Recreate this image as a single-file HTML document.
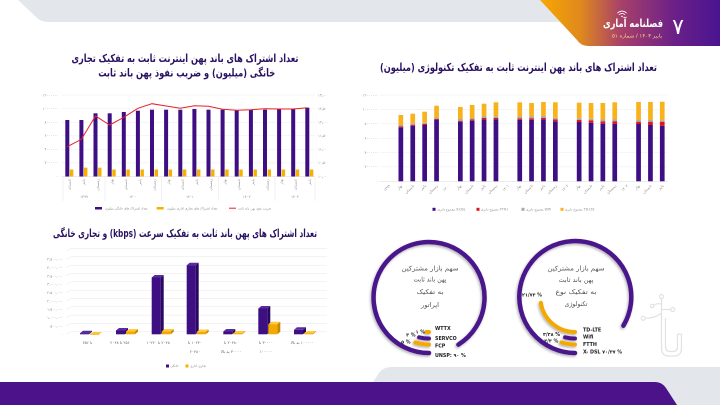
<!DOCTYPE html>
<html><head><meta charset="utf-8"><style>
html,body{margin:0;padding:0;background:#fff;}
body{width:720px;height:405px;overflow:hidden;}
svg{display:block;font-family:"DejaVu Sans","Liberation Sans",sans-serif;}
.t{font-weight:bold;fill:#2b1163;font-size:11px;}
.ax{font-size:3.6px;fill:#8a8a8a;}
.lg{font-size:3.2px;fill:#8a8a8a;}
.ct{font-size:6.5px;fill:#555;}
.rl{font-size:4.8px;fill:#222;font-weight:bold;}
</style></head><body>
<svg width="720" height="405" viewBox="0 0 720 405" xmlns="http://www.w3.org/2000/svg">
<defs>
<linearGradient id="hg" x1="540" y1="0" x2="720" y2="0" gradientUnits="userSpaceOnUse">
<stop offset="0" stop-color="#f7a800"/><stop offset="0.22" stop-color="#e08a1c"/><stop offset="0.45" stop-color="#a8406a"/><stop offset="0.75" stop-color="#6a2088"/><stop offset="1" stop-color="#4a1490"/>
</linearGradient>
<filter id="sh" x="-30%" y="-30%" width="160%" height="160%"><feDropShadow dx="-1" dy="1.5" stdDeviation="1.3" flood-color="#000" flood-opacity="0.3"/></filter>
</defs>

<!-- top gray band -->
<path d="M18 0 L720 0 L720 22 L48 22 Q40 22 35 16 Z" fill="#e3e6ea"/>
<!-- header -->
<path d="M540 0 L720 0 L720 46 L588 46 Q581 46 577 40 Z" fill="url(#hg)"/>
<text x="678" y="34" font-size="22" fill="#fff" text-anchor="middle">۷</text>
<text x="633" y="27" font-size="11" font-weight="bold" fill="#fff" text-anchor="middle" direction="rtl" textLength="60" lengthAdjust="spacingAndGlyphs">فصلنامه آماری</text>
<text x="637" y="37.5" font-size="5" fill="#ffd98a" text-anchor="middle" direction="rtl" textLength="50" lengthAdjust="spacingAndGlyphs">پاییز ۱۴۰۳ / شماره ۵۱</text>
<g fill="none" stroke="#fff" stroke-width="0.8" stroke-linecap="round"><path d="M617.5 13 Q622 9.2 626.5 13"/><path d="M619.2 14.6 Q622 12.3 624.8 14.6"/></g>
<circle cx="622" cy="16.4" r="0.8" fill="#fff"/>

<!-- bottom bands -->
<path d="M720 367 L392 367 Q383 367 379 373 L371 385 L371 405 L720 405 Z" fill="#e3e6ea"/>
<path d="M0 382 L655 382 Q662 382 666 388 L677 405 L0 405 Z" fill="#4b1289"/>

<!-- ===== Chart 1 ===== -->
<text class="t" x="185" y="62" text-anchor="middle" direction="rtl" textLength="227" lengthAdjust="spacingAndGlyphs">تعداد اشتراک های باند پهن اینترنت ثابت به تفکیک تجاری</text>
<text class="t" x="186.7" y="76.5" text-anchor="middle" direction="rtl" textLength="177" lengthAdjust="spacingAndGlyphs">خانگی (میلیون) و ضریب نفوذ پهن باند ثابت</text>
<g stroke="#ececec" stroke-width="0.5">
<line x1="61.7" y1="95" x2="315" y2="95"/><line x1="61.7" y1="108.6" x2="315" y2="108.6"/><line x1="61.7" y1="122.2" x2="315" y2="122.2"/><line x1="61.7" y1="135.8" x2="315" y2="135.8"/><line x1="61.7" y1="149.3" x2="315" y2="149.3"/><line x1="61.7" y1="162.9" x2="315" y2="162.9"/><line x1="61.7" y1="176.5" x2="315" y2="176.5" stroke="#d8d8d8"/>
</g>
<g class="ax" text-anchor="end">
<text x="58" y="96.3">۱۲۰۰۰۰۰۰</text><text x="58" y="109.9">۱۰۰۰۰۰۰۰</text><text x="58" y="123.5">۸۰۰۰۰۰۰</text><text x="58" y="137.1">۶۰۰۰۰۰۰</text><text x="58" y="150.6">۴۰۰۰۰۰۰</text><text x="58" y="164.2">۲۰۰۰۰۰۰</text><text x="58" y="177.8">۰</text>
</g>
<g class="ax">
<text x="318" y="96.3">۱۳٫۰۰</text><text x="318" y="109.9">۱۲٫۵۰</text><text x="318" y="123.5">۱۲٫۰۰</text><text x="318" y="137.1">۱۱٫۵۰</text><text x="318" y="150.6">۱۱٫۰۰</text><text x="318" y="164.2">۱۰٫۵۰</text><text x="318" y="177.8">۱۰٫۰۰</text>
</g>
<g fill="#3d0f82">
<rect x="65.3" y="120" width="4" height="56.5"/><rect x="79.4" y="120" width="4" height="56.5"/><rect x="93.5" y="113.3" width="4" height="63.2"/><rect x="107.7" y="113.3" width="4" height="63.2"/><rect x="121.8" y="112" width="4" height="64.5"/><rect x="135.9" y="110.7" width="4" height="65.8"/><rect x="150" y="109.7" width="4" height="66.8"/><rect x="164.1" y="109.7" width="4" height="66.8"/><rect x="178.3" y="109.7" width="4" height="66.8"/><rect x="192.4" y="109" width="4" height="67.5"/><rect x="206.5" y="109.7" width="4" height="66.8"/><rect x="220.6" y="109.7" width="4" height="66.8"/><rect x="234.7" y="110.3" width="4" height="66.2"/><rect x="248.9" y="109.7" width="4" height="66.8"/><rect x="263" y="109.7" width="4" height="66.8"/><rect x="277.1" y="109" width="4" height="67.5"/><rect x="291.2" y="109" width="4" height="67.5"/><rect x="305.3" y="107.7" width="4" height="68.8"/>
</g>
<g fill="#f5b000">
<rect x="69.9" y="169.5" width="3.4" height="7"/><rect x="84" y="167.7" width="3.4" height="8.8"/><rect x="98.1" y="167.7" width="3.4" height="8.8"/><rect x="112.3" y="169.5" width="3.4" height="7"/><rect x="126.4" y="169.5" width="3.4" height="7"/><rect x="140.5" y="169.5" width="3.4" height="7"/><rect x="154.6" y="169.5" width="3.4" height="7"/><rect x="168.7" y="169.5" width="3.4" height="7"/><rect x="182.9" y="169.5" width="3.4" height="7"/><rect x="197" y="169.5" width="3.4" height="7"/><rect x="211.1" y="169.5" width="3.4" height="7"/><rect x="225.2" y="169.5" width="3.4" height="7"/><rect x="239.3" y="169.5" width="3.4" height="7"/><rect x="253.5" y="169.5" width="3.4" height="7"/><rect x="267.6" y="169.5" width="3.4" height="7"/><rect x="281.7" y="169.5" width="3.4" height="7"/><rect x="295.8" y="169.5" width="3.4" height="7"/><rect x="309.9" y="169.5" width="3.4" height="7"/>
</g>
<polyline fill="none" stroke="#e8202a" stroke-width="1" points="67.3,146.7 81.4,139.3 95.5,116 109.7,125 123.8,117.3 137.9,108.3 152,103.7 166.1,106 180.3,108.3 194.4,105.7 208.5,106.3 222.6,109.3 236.7,110.3 250.9,109.7 265,108.7 279.1,109 293.2,109 307.3,107.7"/>
<g stroke="#dcdcdc" stroke-width="0.4">
<line x1="63" y1="177" x2="63" y2="201"/><line x1="105" y1="177" x2="105" y2="201"/><line x1="161.7" y1="177" x2="161.7" y2="201"/><line x1="218.3" y1="177" x2="218.3" y2="201"/><line x1="275" y1="177" x2="275" y2="201"/><line x1="315" y1="177" x2="315" y2="201"/>
</g>
<g class="ax" text-anchor="end">
<text transform="translate(70.6,179) rotate(-90)">تابستان</text><text transform="translate(84.7,179) rotate(-90)">پاییز</text><text transform="translate(98.8,179) rotate(-90)">زمستان</text><text transform="translate(113,179) rotate(-90)">بهار</text><text transform="translate(127.1,179) rotate(-90)">تابستان</text><text transform="translate(141.2,179) rotate(-90)">پاییز</text><text transform="translate(155.3,179) rotate(-90)">زمستان</text><text transform="translate(169.4,179) rotate(-90)">بهار</text><text transform="translate(183.6,179) rotate(-90)">تابستان</text><text transform="translate(197.7,179) rotate(-90)">پاییز</text><text transform="translate(211.8,179) rotate(-90)">زمستان</text><text transform="translate(225.9,179) rotate(-90)">بهار</text><text transform="translate(240,179) rotate(-90)">تابستان</text><text transform="translate(254.2,179) rotate(-90)">پاییز</text><text transform="translate(268.3,179) rotate(-90)">زمستان</text><text transform="translate(282.4,179) rotate(-90)">بهار</text><text transform="translate(296.5,179) rotate(-90)">تابستان</text><text transform="translate(310.6,179) rotate(-90)">پاییز</text>
</g>
<g class="ax" text-anchor="middle">
<text x="84" y="198">۱۳۹۹</text><text x="133" y="198">۱۴۰۰</text><text x="190" y="198">۱۴۰۱</text><text x="246.7" y="198">۱۴۰۲</text><text x="295" y="198">۱۴۰۳</text>
</g>
<rect x="95" y="207" width="7" height="2.5" fill="#3d0f82"/>
<text class="lg" x="105" y="209.3">تعداد اشتراک های خانگی میلیون</text>
<rect x="156.7" y="207" width="7" height="2.5" fill="#f5b000"/>
<text class="lg" x="167" y="209.3">تعداد اشتراک های تجاری اداری میلیون</text>
<line x1="229" y1="208.2" x2="236" y2="208.2" stroke="#e8202a" stroke-width="1"/>
<text class="lg" x="238" y="209.3">ضریب نفوذ پهن باند ثابت</text>

<!-- ===== Chart 2 ===== -->
<text class="t" x="518.5" y="71" text-anchor="middle" direction="rtl" textLength="277" lengthAdjust="spacingAndGlyphs">تعداد اشتراک های باند پهن اینترنت ثابت به تفکیک تکنولوژی (میلیون)</text>
<g stroke="#ececec" stroke-width="0.5">
<line x1="380" y1="95" x2="668" y2="95"/><line x1="380" y1="109.4" x2="668" y2="109.4"/><line x1="380" y1="123.8" x2="668" y2="123.8"/><line x1="380" y1="138.2" x2="668" y2="138.2"/><line x1="380" y1="152.5" x2="668" y2="152.5"/><line x1="380" y1="166.9" x2="668" y2="166.9"/><line x1="380" y1="181.3" x2="668" y2="181.3" stroke="#d8d8d8"/>
</g>
<g class="ax" text-anchor="end">
<text x="378" y="96.3">۱۲۰۰۰۰۰۰</text><text x="378" y="110.7">۱۰۰۰۰۰۰۰</text><text x="378" y="125.1">۸۰۰۰۰۰۰</text><text x="378" y="139.5">۶۰۰۰۰۰۰</text><text x="378" y="153.8">۴۰۰۰۰۰۰</text><text x="378" y="168.2">۲۰۰۰۰۰۰</text><text x="378" y="182.6">۰</text>
</g>
<g fill="#3d0f82">
<rect x="398.5" y="127.3" width="4.7" height="54"/><rect x="410.4" y="125.7" width="4.7" height="55.6"/><rect x="422.3" y="125" width="4.7" height="56.3"/><rect x="434.2" y="120" width="4.7" height="61.3"/>
<rect x="458" y="121.7" width="4.7" height="59.6"/><rect x="469.8" y="120.7" width="4.7" height="60.6"/><rect x="481.7" y="119.3" width="4.7" height="62"/><rect x="493.6" y="119.3" width="4.7" height="62"/>
<rect x="517.4" y="119.7" width="4.7" height="61.6"/><rect x="529.2" y="119.7" width="4.7" height="61.6"/><rect x="541.1" y="119.3" width="4.7" height="62"/><rect x="553" y="121.3" width="4.7" height="60"/>
<rect x="576.8" y="122" width="4.7" height="59.3"/><rect x="588.7" y="122.7" width="4.7" height="58.6"/><rect x="600.5" y="123.7" width="4.7" height="57.6"/><rect x="612.4" y="123.7" width="4.7" height="57.6"/>
<rect x="636.2" y="124" width="4.7" height="57.3"/><rect x="648.1" y="125" width="4.7" height="56.3"/><rect x="659.9" y="125.7" width="4.7" height="55.6"/>
</g>
<g fill="#e3121b">
<rect x="398.5" y="126.3" width="4.7" height="1"/><rect x="410.4" y="124.7" width="4.7" height="1"/><rect x="422.3" y="124" width="4.7" height="1"/><rect x="434.2" y="119" width="4.7" height="1"/>
<rect x="458" y="120.7" width="4.7" height="1"/><rect x="469.8" y="119.5" width="4.7" height="1.2"/><rect x="481.7" y="118" width="4.7" height="1.3"/><rect x="493.6" y="118" width="4.7" height="1.3"/>
<rect x="517.4" y="118.3" width="4.7" height="1.4"/><rect x="529.2" y="118.2" width="4.7" height="1.5"/><rect x="541.1" y="117.8" width="4.7" height="1.5"/><rect x="553" y="119.5" width="4.7" height="1.8"/>
<rect x="576.8" y="120" width="4.7" height="2"/><rect x="588.7" y="120.5" width="4.7" height="2.2"/><rect x="600.5" y="121.3" width="4.7" height="2.4"/><rect x="612.4" y="121.2" width="4.7" height="2.5"/>
<rect x="636.2" y="121.7" width="4.7" height="2.3"/><rect x="648.1" y="121.7" width="4.7" height="3.3"/><rect x="659.9" y="121.7" width="4.7" height="4"/>
</g>
<g fill="#a9a9a9">
<rect x="398.5" y="125" width="4.7" height="1.3"/><rect x="410.4" y="123.3" width="4.7" height="1.4"/><rect x="422.3" y="122.7" width="4.7" height="1.3"/><rect x="434.2" y="117.5" width="4.7" height="1.5"/>
<rect x="458" y="119" width="4.7" height="1.7"/><rect x="469.8" y="118" width="4.7" height="1.5"/><rect x="481.7" y="116.5" width="4.7" height="1.5"/><rect x="493.6" y="116.3" width="4.7" height="1.7"/>
<rect x="517.4" y="116.5" width="4.7" height="1.8"/><rect x="529.2" y="116.5" width="4.7" height="1.7"/><rect x="541.1" y="116" width="4.7" height="1.8"/><rect x="553" y="117.8" width="4.7" height="1.7"/>
<rect x="576.8" y="118.3" width="4.7" height="1.7"/><rect x="588.7" y="118.8" width="4.7" height="1.7"/><rect x="600.5" y="119.5" width="4.7" height="1.8"/><rect x="612.4" y="119.5" width="4.7" height="1.7"/>
<rect x="636.2" y="120" width="4.7" height="1.7"/><rect x="648.1" y="120" width="4.7" height="1.7"/><rect x="659.9" y="120.3" width="4.7" height="1.4"/>
</g>
<g fill="#f7b21c">
<rect x="398.5" y="115" width="4.7" height="10"/><rect x="410.4" y="113.7" width="4.7" height="9.6"/><rect x="422.3" y="111.7" width="4.7" height="11"/><rect x="434.2" y="105.7" width="4.7" height="11.8"/>
<rect x="458" y="107" width="4.7" height="12"/><rect x="469.8" y="105" width="4.7" height="13"/><rect x="481.7" y="103.7" width="4.7" height="12.8"/><rect x="493.6" y="102.3" width="4.7" height="14"/>
<rect x="517.4" y="102.3" width="4.7" height="14.2"/><rect x="529.2" y="103" width="4.7" height="13.5"/><rect x="541.1" y="102" width="4.7" height="14"/><rect x="553" y="102.3" width="4.7" height="15.5"/>
<rect x="576.8" y="102.7" width="4.7" height="15.6"/><rect x="588.7" y="103" width="4.7" height="15.8"/><rect x="600.5" y="103" width="4.7" height="16.5"/><rect x="612.4" y="102.3" width="4.7" height="17.2"/>
<rect x="636.2" y="102" width="4.7" height="18"/><rect x="648.1" y="102" width="4.7" height="18"/><rect x="659.9" y="101.7" width="4.7" height="18.6"/>
</g>
<g class="ax" text-anchor="end">
<text transform="translate(390.5,186) rotate(-45)">۱۳۹۹</text>
<text transform="translate(402.4,186) rotate(-45)">بهار</text><text transform="translate(414.3,186) rotate(-45)">تابستان</text><text transform="translate(426.1,186) rotate(-45)">پاییز</text><text transform="translate(438,186) rotate(-45)">زمستان</text>
<text transform="translate(449.9,186) rotate(-45)">۱۴۰۰</text>
<text transform="translate(461.8,186) rotate(-45)">بهار</text><text transform="translate(473.7,186) rotate(-45)">تابستان</text><text transform="translate(485.6,186) rotate(-45)">پاییز</text><text transform="translate(497.4,186) rotate(-45)">زمستان</text>
<text transform="translate(509.3,186) rotate(-45)">۱۴۰۱</text>
<text transform="translate(521.2,186) rotate(-45)">بهار</text><text transform="translate(533.1,186) rotate(-45)">تابستان</text><text transform="translate(545,186) rotate(-45)">پاییز</text><text transform="translate(556.9,186) rotate(-45)">زمستان</text>
<text transform="translate(568.7,186) rotate(-45)">۱۴۰۲</text>
<text transform="translate(580.6,186) rotate(-45)">بهار</text><text transform="translate(592.5,186) rotate(-45)">تابستان</text><text transform="translate(604.4,186) rotate(-45)">پاییز</text><text transform="translate(616.3,186) rotate(-45)">زمستان</text>
<text transform="translate(628.2,186) rotate(-45)">۱۴۰۳</text>
<text transform="translate(640,186) rotate(-45)">بهار</text><text transform="translate(651.9,186) rotate(-45)">تابستان</text><text transform="translate(663.8,186) rotate(-45)">پاییز</text>
</g>
<rect x="432.5" y="207.8" width="3" height="3" fill="#3d0f82"/><text class="lg" x="437.5" y="210.3">مجموع دایری X-DSL</text>
<rect x="476.5" y="207.8" width="3" height="3" fill="#e3121b"/><text class="lg" x="481" y="210.3">مجموع دایری FTTH</text>
<rect x="521.5" y="207.8" width="3" height="3" fill="#a9a9a9"/><text class="lg" x="526" y="210.3">مجموع دایری Wifi</text>
<rect x="560.5" y="207.8" width="3" height="3" fill="#f7b21c"/><text class="lg" x="565" y="210.3">مجموع دایری TD-LTE</text>

<!-- ===== Chart 3 ===== -->
<text class="t" x="185" y="237" text-anchor="middle" direction="rtl" textLength="264" lengthAdjust="spacingAndGlyphs">تعداد اشتراک های پهن باند ثابت به تفکیک سرعت (kbps) و تجاری خانگی</text>
<g stroke="#e6e6e6" stroke-width="0.5" fill="none">
<path d="M66 334.3 L71 331.8 L327 331.8"/><path d="M66 326 L71 323.5 L327 323.5"/><path d="M66 317.6 L71 315.1 L327 315.1"/><path d="M66 309.3 L71 306.8 L327 306.8"/><path d="M66 301 L71 298.5 L327 298.5"/><path d="M66 292.7 L71 290.2 L327 290.2"/><path d="M66 284.3 L71 281.8 L327 281.8"/><path d="M66 276 L71 273.5 L327 273.5"/><path d="M66 267.7 L71 265.2 L327 265.2"/><path d="M66 259.3 L71 256.8 L327 256.8"/><path d="M66 251 L71 248.5 L327 248.5"/>
</g>
<g class="ax" text-anchor="end">
<text x="63" y="335.6">۰</text><text x="63" y="327.3">۵۰۰،۰۰۰</text><text x="63" y="318.9">۱،۰۰۰،۰۰۰</text><text x="63" y="310.6">۱،۵۰۰،۰۰۰</text><text x="63" y="302.3">۲،۰۰۰،۰۰۰</text><text x="63" y="294">۲،۵۰۰،۰۰۰</text><text x="63" y="285.6">۳،۰۰۰،۰۰۰</text><text x="63" y="277.3">۳،۵۰۰،۰۰۰</text><text x="63" y="269">۴،۰۰۰،۰۰۰</text><text x="63" y="260.6">۴،۵۰۰،۰۰۰</text>
</g>
<!-- 3D bars: purple then orange per group -->
<g>
<!-- G1 -->
<polygon points="89,333.2 92,330.7 92,331.8 89,334.3" fill="#2a0860"/><polygon points="80,333.2 83,330.7 92,330.7 89,333.2" fill="#5a2aa0"/><rect x="80" y="333.2" width="9" height="1.1" fill="#3d0f82"/>
<polygon points="99,334.3 102,331.8 102,331.8 99,334.3" fill="#c88600"/><polygon points="90,334.5 93,332 102,332 99,334.5" fill="#ffc940"/><rect x="90" y="333.8" width="9" height="0.9" fill="#f2a900"/>
<!-- G2 -->
<polygon points="125,330.5 128,328 128,331.8 125,334.3" fill="#2a0860"/><polygon points="116,330.5 119,328 128,328 125,330.5" fill="#5a2aa0"/><rect x="116" y="330.5" width="9" height="3.8" fill="#3d0f82"/>
<polygon points="135,331.5 138,329 138,331.8 135,334.3" fill="#c88600"/><polygon points="126,331.5 129,329 138,329 135,331.5" fill="#ffc940"/><rect x="126" y="331.5" width="9" height="2.8" fill="#f2a900"/>
<!-- G3 -->
<polygon points="160.7,277.5 163.7,275 163.7,331.8 160.7,334.3" fill="#2a0860"/><polygon points="151.7,277.5 154.7,275 163.7,275 160.7,277.5" fill="#5a2aa0"/><rect x="151.7" y="277.5" width="9" height="56.8" fill="#3d0f82"/>
<polygon points="170.7,331.5 173.7,329 173.7,331.8 170.7,334.3" fill="#c88600"/><polygon points="161.7,331.5 164.7,329 173.7,329 170.7,331.5" fill="#ffc940"/><rect x="161.7" y="331.5" width="9" height="2.8" fill="#f2a900"/>
<!-- G4 -->
<polygon points="195.7,265.2 198.7,262.7 198.7,331.8 195.7,334.3" fill="#2a0860"/><polygon points="186.7,265.2 189.7,262.7 198.7,262.7 195.7,265.2" fill="#5a2aa0"/><rect x="186.7" y="265.2" width="9" height="69.1" fill="#3d0f82"/>
<polygon points="205.7,332 208.7,329.5 208.7,331.8 205.7,334.3" fill="#c88600"/><polygon points="196.7,332 199.7,329.5 208.7,329.5 205.7,332" fill="#ffc940"/><rect x="196.7" y="332" width="9" height="2.3" fill="#f2a900"/>
<!-- G5 -->
<polygon points="232.3,331.5 235.3,329 235.3,331.8 232.3,334.3" fill="#2a0860"/><polygon points="223.3,331.5 226.3,329 235.3,329 232.3,331.5" fill="#5a2aa0"/><rect x="223.3" y="331.5" width="9" height="2.8" fill="#3d0f82"/>
<polygon points="242.3,333.5 245.3,331 245.3,331.8 242.3,334.3" fill="#c88600"/><polygon points="233.3,333.5 236.3,331 245.3,331 242.3,333.5" fill="#ffc940"/><rect x="233.3" y="333.3" width="9" height="1" fill="#f2a900"/>
<!-- G6 -->
<polygon points="267.3,308.5 270.3,306 270.3,331.8 267.3,334.3" fill="#2a0860"/><polygon points="258.3,308.5 261.3,306 270.3,306 267.3,308.5" fill="#5a2aa0"/><rect x="258.3" y="308.5" width="9" height="25.8" fill="#3d0f82"/>
<polygon points="277.3,324.2 280.3,321.7 280.3,331.8 277.3,334.3" fill="#c88600"/><polygon points="268.3,324.2 271.3,321.7 280.3,321.7 277.3,324.2" fill="#ffc940"/><rect x="268.3" y="324.2" width="9" height="10.1" fill="#f2a900"/>
<!-- G7 -->
<polygon points="303,329.8 306,327.3 306,331.8 303,334.3" fill="#2a0860"/><polygon points="294,329.8 297,327.3 306,327.3 303,329.8" fill="#5a2aa0"/><rect x="294" y="329.8" width="9" height="4.5" fill="#3d0f82"/>
<polygon points="313,333.5 316,331 316,331.8 313,334.3" fill="#c88600"/><polygon points="304,333.5 307,331 316,331 313,333.5" fill="#ffc940"/><rect x="304" y="333.3" width="9" height="1" fill="#f2a900"/>
</g>
<g class="ax" text-anchor="middle" direction="rtl" style="fill:#666;font-size:3.9px">
<text x="87.5" y="344">تا ۲۵۶</text>
<text x="120" y="344">۲۵۶ تا ۲۰۴۸</text>
<text x="158" y="344">۲۰۴۸ تا ۱۰۲۴۰</text>
<text x="195" y="344">۱۰۲۴۰ تا</text><text x="195" y="353">۲۰۴۸۰</text>
<text x="231" y="344">۲۰۴۸۰ تا</text><text x="231" y="353">۳۰۰۰۰ به بالا</text>
<text x="266" y="344">۳۰۰۰۰ تا</text><text x="266" y="353">۱۰۰۰۰۰</text>
<text x="302" y="344">۱۰۰۰۰۰ به بالا</text>
</g>
<rect x="166" y="364.5" width="3" height="3" fill="#3d0f82"/><text class="lg" x="170.5" y="367.2">خانگی</text>
<rect x="185.5" y="364.5" width="3" height="3" fill="#f5b000"/><text class="lg" x="190" y="367.2">تجاری اداری</text>

<!-- ===== Radial charts ===== -->
<g fill="none" stroke-linecap="round" filter="url(#sh)">
<path d="M429 353 A55.5 55.5 0 1 1 458.4 344.6" stroke="#4a148c" stroke-width="4.5"/>
<path d="M429 344.5 A47 47 0 0 1 415.3 342.4" stroke="#f5a800" stroke-width="4"/>
<path d="M429 338.5 A41 41 0 0 1 419.1 337.3" stroke="#4a148c" stroke-width="4"/>
<path d="M429 332 A34.5 34.5 0 0 1 426.6 331.9" stroke="#f5a800" stroke-width="4"/>

<path d="M575 353 A56 56 0 1 1 623.4 325.7" stroke="#4a148c" stroke-width="4.5"/>
<path d="M575 344.5 A47 47 0 0 1 561.3 342.4" stroke="#f5a800" stroke-width="4"/>
<path d="M575 338.5 A41 41 0 0 1 565.1 337.3" stroke="#4a148c" stroke-width="4"/>
<path d="M575 332 A34.5 34.5 0 0 1 540.9 302.9" stroke="#f5a800" stroke-width="4"/>
</g>
<g class="ct" text-anchor="middle">
<text x="430" y="270.5" textLength="57" lengthAdjust="spacingAndGlyphs">سهم بازار مشترکین</text>
<text x="430" y="281.5" textLength="33" lengthAdjust="spacingAndGlyphs">پهن باند ثابت</text>
<text x="430" y="294" textLength="27" lengthAdjust="spacingAndGlyphs">به تفکیک</text>
<text x="430" y="307" textLength="18" lengthAdjust="spacingAndGlyphs">اپراتور</text>
<text x="576" y="270.5" textLength="57" lengthAdjust="spacingAndGlyphs">سهم بازار مشترکین</text>
<text x="576" y="282" textLength="35" lengthAdjust="spacingAndGlyphs">پهن باند ثابت</text>
<text x="576" y="294" textLength="41" lengthAdjust="spacingAndGlyphs">به تفکیک نوع</text>
<text x="576" y="306" textLength="23" lengthAdjust="spacingAndGlyphs">تکنولوژی</text>
</g>
<g class="rl">
<text x="435" y="330">WTTX</text>
<text x="435" y="340">SERVCO</text>
<text x="435" y="347.4">FCP</text>
<text x="435" y="356.8">UNSP: ۹۰ %</text>
<text x="425" y="333.4" text-anchor="end">۱ %</text>
<text x="415.5" y="336.7" text-anchor="end">۴ %</text>
<text x="410.5" y="343.4" text-anchor="end">۵ %</text>
<text x="583" y="331.7">TD-LTE</text>
<text x="583" y="338.7">Wifi</text>
<text x="583" y="346">FTTH</text>
<text x="583" y="353.7">X- DSL ۷۰/۴۷ %</text>
<text x="542" y="296.7" text-anchor="end">۲۱/۷۴ %</text>
<text x="560" y="336" text-anchor="end">۳/۴۸ %</text>
<text x="558.3" y="342.4" text-anchor="end">۴/۳ %</text>
</g>

<!-- faint logo -->
<g fill="none" stroke="#e2e2e2" stroke-width="1.2">
<path d="M661.5 299 L661.5 348 Q661.5 356 669 356 L674 356 Q681.5 356 681.5 348 L681.5 334"/>
<path d="M665.5 318 L665.5 346 Q665.5 351.5 670 351.5 L673 351.5 Q677.5 351.5 677.5 346 L677.5 334"/>
<path d="M681.5 334 L677.5 334"/>
<circle cx="661.5" cy="296.5" r="2"/>
<path d="M661.5 313 Q655 318.3 645.5 318.3"/><circle cx="643.3" cy="318.3" r="2"/>
<path d="M661.5 309.5 L670.5 309.5"/><circle cx="672.8" cy="309.5" r="2"/>
<path d="M661.5 304 Q657 303 654 305"/><circle cx="652.2" cy="306" r="1.7"/>
</g>
</svg>
</body></html>
